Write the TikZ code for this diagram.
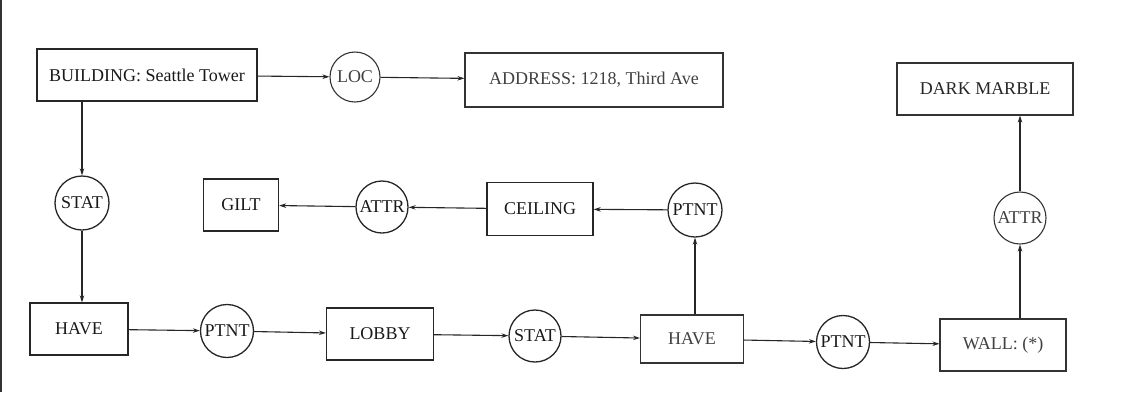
\documentclass[tikz,border=0pt]{standalone}
\usepackage{fontspec}
\setmainfont{Liberation Serif}
\usetikzlibrary{arrows.meta}
\begin{document}
\begin{tikzpicture}[x=1pt,y=-1pt,
  every node/.style={font=\fontsize{18}{20}\selectfont, inner sep=0pt},
  boxd/.style={draw=black!85, line width=1.3pt, rectangle, text=black!90},
  boxl/.style={draw=black!80, line width=1.1pt, rectangle, text=black!75},
  circd/.style={draw=black!85, line width=1.3pt, circle, text=black!90},
  circl/.style={draw=black!80, line width=1.1pt, circle, text=black!75},
  arr/.style={line width=1.1pt, draw=black!85, -{Stealth[length=7pt,width=4.5pt]}}]
\useasboundingbox (0,0) rectangle (1146,392);
\draw[line width=2.5pt, black!80] (1.2,0) -- (1.2,392);
% top row
\node[boxd, minimum width=220, minimum height=52] (building) at (147,75) {BUILDING: Seattle Tower};
\node[circl, minimum size=50] (loc) at (355,77) {LOC};
\node[boxl, minimum width=258, minimum height=54] (address) at (594,80) {ADDRESS: 1218, Third Ave};
\node[boxl, minimum width=176, minimum height=52, text=black!85] (dark) at (985,89) {DARK MARBLE};
% middle row
\node[circd, minimum size=54] (stat1) at (82,203) {STAT};
\node[boxd, minimum width=75, minimum height=52] (gilt) at (241,205) {GILT};
\node[circd, minimum size=52] (attr1) at (382,207) {ATTR};
\node[boxd, minimum width=106, minimum height=53] (ceiling) at (540,209) {CEILING};
\node[circd, minimum size=54] (ptnt3) at (695,210) {PTNT};
\node[circl, minimum size=52] (attr2) at (1020,218) {ATTR};
% bottom row
\node[boxd, minimum width=98, minimum height=52] (have1) at (79,329) {HAVE};
\node[circd, minimum size=53] (ptnt1) at (227,331) {PTNT};
\node[boxd, minimum width=107, minimum height=52] (lobby) at (380,334) {LOBBY};
\node[circd, minimum size=52] (stat2) at (535,336) {STAT};
\node[boxl, minimum width=103, minimum height=48] (have2) at (692,339) {HAVE};
\node[circd, minimum size=53] (ptnt2) at (843,342) {PTNT};
\node[boxl, minimum width=126, minimum height=52] (wall) at (1003,345) {WALL: (*)};
% connectors
\draw[arr] (building) -- (loc);
\draw[arr] (loc) -- (address);
\draw[arr] (stat1 |- building.south) -- (stat1);
\draw[arr] (stat1) -- (stat1 |- have1.north);
\draw[arr] (have1) -- (ptnt1);
\draw[arr] (ptnt1) -- (lobby);
\draw[arr] (lobby) -- (stat2);
\draw[arr] (stat2) -- (have2);
\draw[arr] (have2) -- (ptnt2);
\draw[arr] (ptnt2) -- (wall);
\draw[arr] (ptnt3 |- have2.north) -- (ptnt3);
\draw[arr] (ptnt3) -- (ceiling);
\draw[arr] (ceiling) -- (attr1);
\draw[arr] (attr1) -- (gilt);
\draw[arr] (attr2 |- wall.north) -- (attr2);
\draw[arr] (attr2) -- (attr2 |- dark.south);
\end{tikzpicture}
\end{document}
